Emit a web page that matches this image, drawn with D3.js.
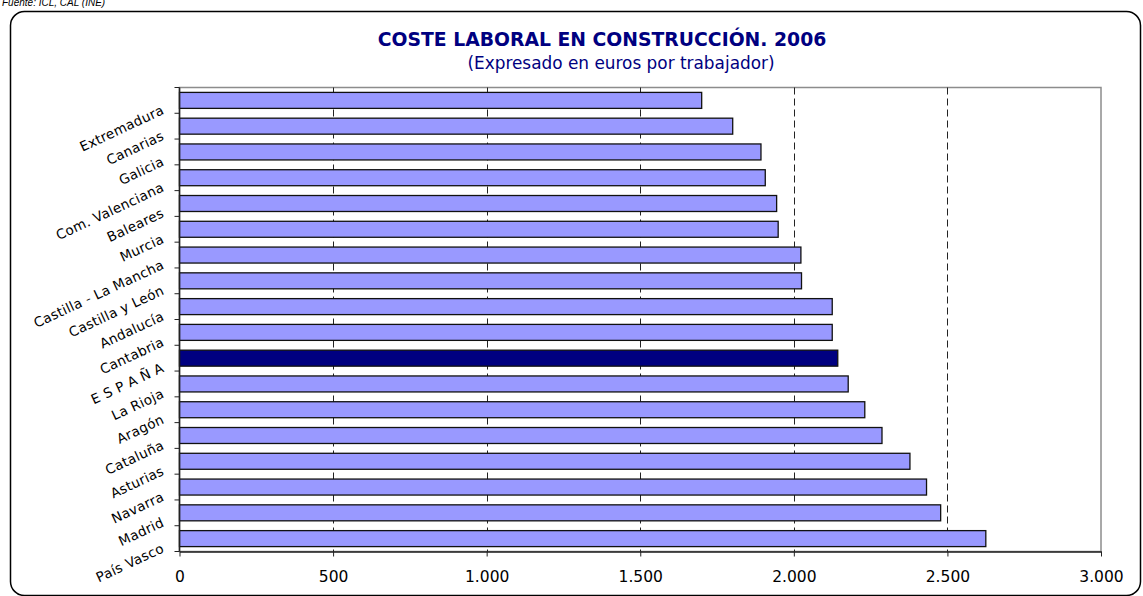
<!DOCTYPE html>
<html>
<head>
<meta charset="utf-8">
<script src="https://cdn.jsdelivr.net/npm/d3@7/dist/d3.min.js"></script>
<style>
  html, body { margin: 0; padding: 0; background: #fff; }
  svg { display: block; }
</style>
</head>
<body>
<svg id="chart" width="1143" height="596"></svg>
<script>
// Labour cost in construction by region, 2006 (euros per worker)
const regions = [
  "Extremadura", "Canarias", "Galicia", "Com. Valenciana", "Baleares", "Murcia",
  "Castilla - La Mancha", "Castilla y León", "Andalucía", "Cantabria", "E S P A Ñ A",
  "La Rioja", "Aragón", "Cataluña", "Asturias", "Navarra", "Madrid", "País Vasco"
];
const costs = [
  1700, 1801, 1893, 1907, 1944, 1949,
  2023, 2025, 2125, 2125, 2143,
  2177, 2231, 2287, 2378, 2432, 2478, 2625
];
const highlighted = ["E S P A Ñ A"];
const xTicks = [0, 500, 1000, 1500, 2000, 2500, 3000];

const titleText = "COSTE LABORAL EN CONSTRUCCIÓN. 2006";
const subtitleText = "(Expresado en euros por trabajador)";
const sourceText = "Fuente: ICL, CAL (INE)";

const svg = d3.select("#chart");
const plot = { left: 179.5, right: 1101, top: 87.5, bottom: 551.5 };

const fmt = d3.formatLocale({ decimal: ",", thousands: ".", grouping: [3], currency: ["", "€"] }).format(",d");

const x = d3.scaleLinear().domain([0, 3000]).range([plot.left, plot.right]);
const y = d3.scaleBand().domain(regions).range([plot.top, plot.bottom]).paddingInner(0.38).paddingOuter(0.19);
const yEdge = d3.scaleBand().domain(regions).range([plot.top, plot.bottom]);

// source note, partly clipped at the top edge
svg.append("text")
  .attr("x", 2).attr("y", 6)
  .attr("font-family", "Liberation Sans, Arial, sans-serif")
  .attr("font-style", "italic")
  .attr("font-size", 10)
  .attr("fill", "#000")
  .text(sourceText);

// outer rounded frame
svg.append("rect")
  .attr("x", 10.5).attr("y", 11.5)
  .attr("width", 1130).attr("height", 584)
  .attr("rx", 14).attr("ry", 14)
  .attr("fill", "#fff")
  .attr("stroke", "#000")
  .attr("stroke-width", 1.5);

// titles
svg.append("text")
  .attr("x", 602).attr("y", 46)
  .attr("text-anchor", "middle")
  .attr("font-family", "DejaVu Sans, Verdana, sans-serif")
  .attr("font-weight", "bold")
  .attr("font-size", 18.8)
  .attr("fill", "#000080")
  .text(titleText);

svg.append("text")
  .attr("x", 621).attr("y", 69)
  .attr("text-anchor", "middle")
  .attr("font-family", "DejaVu Sans, Verdana, sans-serif")
  .attr("font-size", 16.9)
  .attr("fill", "#000080")
  .text(subtitleText);

// plot area border (grey top and right)
svg.append("rect")
  .attr("x", plot.left).attr("y", plot.top)
  .attr("width", plot.right - plot.left).attr("height", plot.bottom - plot.top)
  .attr("fill", "none")
  .attr("stroke", "#8c8c8c")
  .attr("stroke-width", 1.5);

// dashed vertical gridlines
svg.append("g")
  .selectAll("line")
  .data(xTicks.filter(t => t > 0 && t < 3000))
  .join("line")
  .attr("x1", d => Math.round(x(d)) + 0.5).attr("x2", d => Math.round(x(d)) + 0.5)
  .attr("y1", plot.top).attr("y2", plot.bottom)
  .attr("stroke", "#222")
  .attr("stroke-width", 1)
  .attr("stroke-dasharray", "7,4");

// bars
svg.append("g")
  .selectAll("rect")
  .data(regions.map((r, i) => ({ region: r, value: costs[i] })))
  .join("rect")
  .attr("x", x(0))
  .attr("y", d => y(d.region))
  .attr("width", d => x(d.value) - x(0))
  .attr("height", y.bandwidth())
  .attr("fill", d => highlighted.includes(d.region) ? "#000080" : "#9999ff")
  .attr("stroke", "#111")
  .attr("stroke-width", 1.3);

// x axis
const xAxis = svg.append("g")
  .attr("transform", `translate(0,${plot.bottom})`)
  .call(d3.axisBottom(x).tickValues(xTicks).tickFormat(fmt).tickSizeInner(5).tickSizeOuter(0).tickPadding(14));
xAxis.select(".domain").attr("stroke", "#222").attr("stroke-width", 1.5);
xAxis.selectAll(".tick line").attr("stroke", "#222");
xAxis.selectAll(".tick text")
  .attr("font-family", "DejaVu Sans, Verdana, sans-serif")
  .attr("font-size", 15.5)
  .attr("fill", "#000");

// y axis: ticks at band boundaries
const yAxisG = svg.append("g");
yAxisG.append("line")
  .attr("x1", plot.left).attr("x2", plot.left)
  .attr("y1", plot.top).attr("y2", plot.bottom)
  .attr("stroke", "#222").attr("stroke-width", 1.5);
const edges = regions.map(r => yEdge(r)).concat([plot.bottom]);
yAxisG.selectAll("line.tick")
  .data(edges)
  .join("line")
  .attr("class", "tick")
  .attr("x1", plot.left - 5).attr("x2", plot.left)
  .attr("y1", d => d).attr("y2", d => d)
  .attr("stroke", "#222").attr("stroke-width", 1);

// slanted category labels
yAxisG.selectAll("text")
  .data(regions)
  .join("text")
  .attr("transform", d => `translate(165,${yEdge(d) + yEdge.bandwidth() / 2 + 13}) rotate(-25)`)
  .attr("text-anchor", "end")
  .attr("font-family", "DejaVu Sans, Verdana, sans-serif")
  .attr("font-size", 13.5)
  .attr("letter-spacing", 0.3)
  .attr("fill", "#000")
  .text(d => d);
</script>
</body>
</html>
